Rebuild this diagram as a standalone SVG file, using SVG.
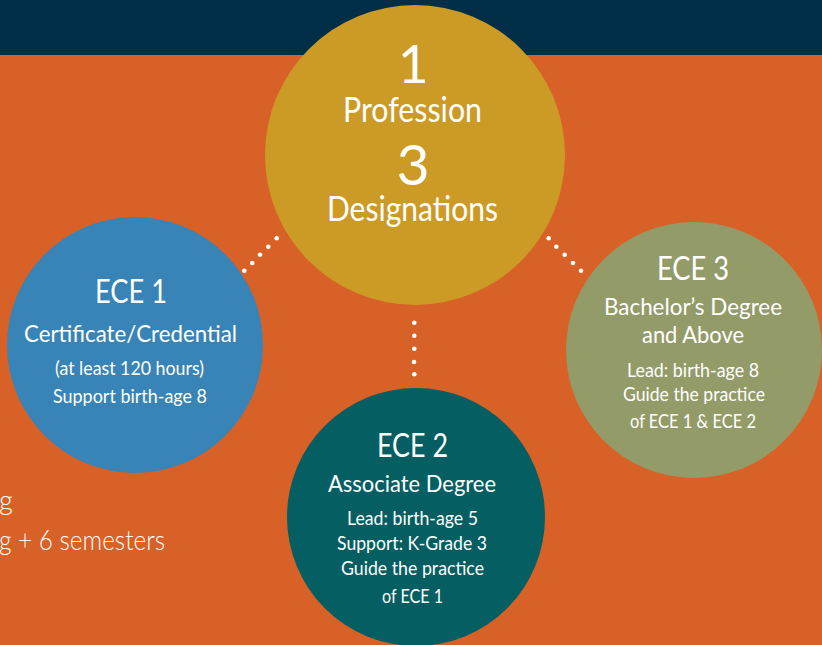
<svg xmlns="http://www.w3.org/2000/svg" width="822" height="645" viewBox="0 0 822 645">
<style>
text{font-family:Lato,"Open Sans","Liberation Sans",sans-serif;fill:#fff;text-anchor:middle}
.h1{font-size:53px}
.h2{font-size:35px}
.t{font-size:32px}
.s{font-size:23.5px}
.x{font-size:19px}
.left{font-size:27px;font-weight:300;text-anchor:start}
.dot{fill:#fff}
</style>
<rect x="0" y="0" width="822" height="645" fill="#d86127"/>
<rect x="0" y="0" width="822" height="55" fill="#002e46"/>
<g id="left-text">
<text class="left" x="-1" y="510">g</text>
<text class="left" x="-1" y="550" textLength="166" lengthAdjust="spacingAndGlyphs">g + 6 semesters</text>
</g>
<g id="connectors">
<circle class="dot" cx="244.3" cy="270.7" r="2.3"/>
<circle class="dot" cx="252.2" cy="263" r="2.3"/>
<circle class="dot" cx="260" cy="254.7" r="2.3"/>
<circle class="dot" cx="268.3" cy="246.7" r="2.3"/>
<circle class="dot" cx="276.7" cy="238.3" r="2.3"/>
<circle class="dot" cx="548.7" cy="238.3" r="2.3"/>
<circle class="dot" cx="556.3" cy="246.7" r="2.3"/>
<circle class="dot" cx="564.7" cy="254.7" r="2.3"/>
<circle class="dot" cx="573" cy="263" r="2.3"/>
<circle class="dot" cx="581" cy="270.7" r="2.3"/>
<circle class="dot" cx="414.3" cy="322.7" r="2.3"/>
<circle class="dot" cx="414.3" cy="335.7" r="2.3"/>
<circle class="dot" cx="414.3" cy="348.7" r="2.3"/>
<circle class="dot" cx="414" cy="362" r="2.3"/>
<circle class="dot" cx="414.3" cy="374.3" r="2.3"/>
</g>
<g id="center">
<circle cx="415" cy="155" r="150" fill="#cc9b26"/>
<text class="h1" x="413" y="83">1</text>
<text class="h2" x="412.5" y="122" textLength="139" lengthAdjust="spacingAndGlyphs">Profession</text>
<text class="h1" x="413" y="185" style="font-size:57px">3</text>
<text class="h2" x="412.5" y="221" textLength="171" lengthAdjust="spacingAndGlyphs">Designations</text>
</g>
<g id="ece1">
<circle cx="135" cy="345" r="128" fill="#3884b6"/>
<text class="t" x="131" y="303" textLength="72" lengthAdjust="spacingAndGlyphs">ECE 1</text>
<text class="s" x="130.5" y="342" textLength="213" lengthAdjust="spacingAndGlyphs">Certificate/Credential</text>
<text class="x" x="129.5" y="375" textLength="149" lengthAdjust="spacingAndGlyphs">(at least 120 hours)</text>
<text class="x" x="130" y="403" textLength="154" lengthAdjust="spacingAndGlyphs">Support birth-age 8</text>
</g>
<g id="ece3">
<circle cx="694" cy="350" r="128" fill="#939b69"/>
<text class="t" x="693" y="280" textLength="72" lengthAdjust="spacingAndGlyphs">ECE 3</text>
<text class="s" x="693" y="315" textLength="178" lengthAdjust="spacingAndGlyphs">Bachelor’s Degree</text>
<text class="s" x="693" y="343" textLength="102" lengthAdjust="spacingAndGlyphs">and Above</text>
<text class="x" x="693" y="377" textLength="132" lengthAdjust="spacingAndGlyphs">Lead: birth-age 8</text>
<text class="x" x="694" y="401" textLength="142" lengthAdjust="spacingAndGlyphs">Guide the practice</text>
<text class="x" x="693" y="428" textLength="126" lengthAdjust="spacingAndGlyphs">of ECE 1 &amp; ECE 2</text>
</g>
<g id="ece2">
<circle cx="416" cy="517" r="129" fill="#045e62"/>
<text class="t" x="412.5" y="457" textLength="71" lengthAdjust="spacingAndGlyphs">ECE 2</text>
<text class="s" x="412" y="492" textLength="168" lengthAdjust="spacingAndGlyphs">Associate Degree</text>
<text class="x" x="412.5" y="525" textLength="131" lengthAdjust="spacingAndGlyphs">Lead: birth-age 5</text>
<text class="x" x="412" y="550" textLength="150" lengthAdjust="spacingAndGlyphs">Support: K-Grade 3</text>
<text class="x" x="412.5" y="575" textLength="143" lengthAdjust="spacingAndGlyphs">Guide the practice</text>
<text class="x" x="412.5" y="603" textLength="61" lengthAdjust="spacingAndGlyphs">of ECE 1</text>
</g>
</svg>
